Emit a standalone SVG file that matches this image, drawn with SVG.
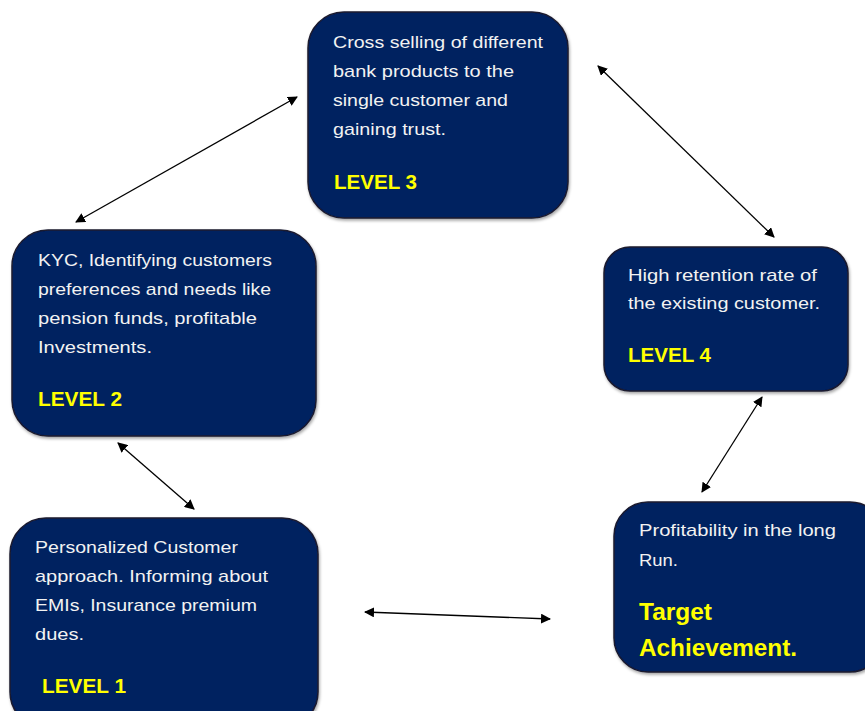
<svg xmlns="http://www.w3.org/2000/svg" width="865" height="711" viewBox="0 0 865 711">
  <defs>
    <marker id="ah" viewBox="0 0 10 10" refX="9" refY="5" markerWidth="10" markerHeight="10" markerUnits="userSpaceOnUse" orient="auto-start-reverse">
      <path d="M0,0 L10,5 L0,10 z" fill="#000"/>
    </marker>
    <filter id="sh" x="-10%" y="-10%" width="120%" height="120%">
      <feDropShadow dx="1" dy="2" stdDeviation="1.5" flood-color="#000" flood-opacity="0.35"/>
    </filter>
  </defs>
  <style>
    .box { fill: #002060; stroke: #1a1a2e; stroke-width: 1.5; filter: url(#sh); }
    .body { font-family: "Liberation Sans", Arial, sans-serif; font-size: 17px; fill: #f2f2f2; }
    .lvl { font-family: "Liberation Sans", Arial, sans-serif; font-size: 21px; font-weight: bold; fill: #ffff00; }
    .big { font-family: "Liberation Sans", Arial, sans-serif; font-size: 23px; font-weight: bold; fill: #ffff00; }
    .conn { stroke: #000; stroke-width: 1.3; fill: none; marker-start: url(#ah); marker-end: url(#ah); }
  </style>
  <rect width="865" height="711" fill="#ffffff"/>

  <g id="connectors">
    <line class="conn" x1="76" y1="222" x2="297" y2="97"/>
    <line class="conn" x1="598" y1="66" x2="774" y2="237"/>
    <line class="conn" x1="118" y1="443" x2="194" y2="509"/>
    <line class="conn" x1="762" y1="397" x2="702" y2="492"/>
    <line class="conn" x1="365" y1="612" x2="550" y2="619"/>
  </g>

  <g id="level3">
    <rect class="box" x="308" y="12" width="260" height="206" rx="36"/>
    <text class="body" x="333" y="48" textLength="210" lengthAdjust="spacingAndGlyphs">Cross selling of different</text>
    <text class="body" x="333" y="77" textLength="181" lengthAdjust="spacingAndGlyphs">bank products to the</text>
    <text class="body" x="333" y="106" textLength="175" lengthAdjust="spacingAndGlyphs">single customer and</text>
    <text class="body" x="333" y="135" textLength="113" lengthAdjust="spacingAndGlyphs">gaining trust.</text>
    <text class="lvl" x="334" y="189" textLength="83" lengthAdjust="spacingAndGlyphs">LEVEL 3</text>
  </g>

  <g id="level2">
    <rect class="box" x="12" y="230" width="304" height="206" rx="36"/>
    <text class="body" x="38" y="266" textLength="234" lengthAdjust="spacingAndGlyphs">KYC, Identifying customers</text>
    <text class="body" x="38" y="295" textLength="233" lengthAdjust="spacingAndGlyphs">preferences and needs like</text>
    <text class="body" x="38" y="324" textLength="219" lengthAdjust="spacingAndGlyphs">pension funds, profitable</text>
    <text class="body" x="38" y="353" textLength="114" lengthAdjust="spacingAndGlyphs">Investments.</text>
    <text class="lvl" x="38" y="406" textLength="84" lengthAdjust="spacingAndGlyphs">LEVEL 2</text>
  </g>

  <g id="level4">
    <rect class="box" x="604" y="247" width="244" height="144" rx="26"/>
    <text class="body" x="628" y="281" textLength="189" lengthAdjust="spacingAndGlyphs">High retention rate of</text>
    <text class="body" x="628" y="309" textLength="192" lengthAdjust="spacingAndGlyphs">the existing customer.</text>
    <text class="lvl" x="628" y="362" textLength="83" lengthAdjust="spacingAndGlyphs">LEVEL 4</text>
  </g>

  <g id="level1">
    <rect class="box" x="10" y="518" width="308" height="210" rx="36"/>
    <text class="body" x="35" y="553" textLength="203" lengthAdjust="spacingAndGlyphs">Personalized Customer</text>
    <text class="body" x="35" y="582" textLength="233" lengthAdjust="spacingAndGlyphs">approach. Informing about</text>
    <text class="body" x="35" y="611" textLength="222" lengthAdjust="spacingAndGlyphs">EMIs, Insurance premium</text>
    <text class="body" x="35" y="640" textLength="49" lengthAdjust="spacingAndGlyphs">dues.</text>
    <text class="lvl" x="42" y="693" textLength="84" lengthAdjust="spacingAndGlyphs">LEVEL 1</text>
  </g>

  <g id="target">
    <rect class="box" x="614" y="502" width="270" height="170" rx="34"/>
    <text class="body" x="639" y="536" textLength="197" lengthAdjust="spacingAndGlyphs">Profitability in the long</text>
    <text class="body" x="639" y="566" textLength="39" lengthAdjust="spacingAndGlyphs">Run.</text>
    <text class="big" x="639" y="620" textLength="73" lengthAdjust="spacingAndGlyphs">Target</text>
    <text class="big" x="639" y="656" textLength="158" lengthAdjust="spacingAndGlyphs">Achievement.</text>
  </g>
</svg>
